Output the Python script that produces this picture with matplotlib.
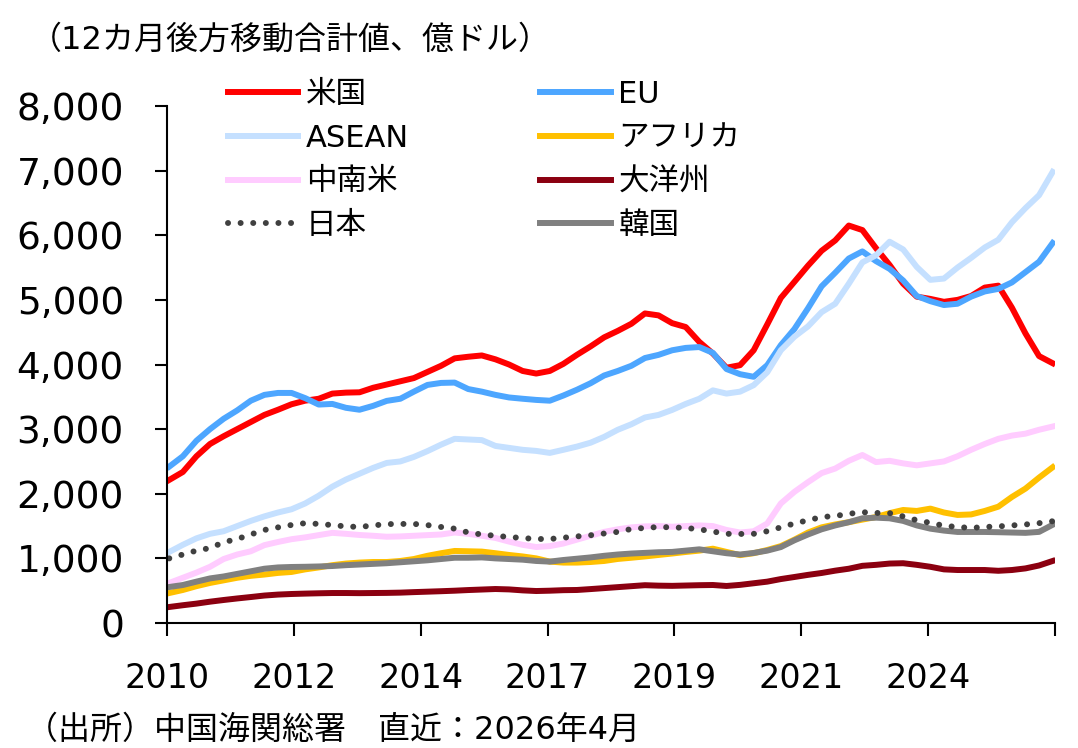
import matplotlib
matplotlib.use("Agg")
import matplotlib.pyplot as plt
import numpy as np

plt.rcParams['font.family'] = ['DejaVu Sans', 'Noto Sans CJK JP']

# quarterly readings (Jan 2010 .. Apr 2026), 12-month rolling sums, 100m USD
months = np.arange(0, 196, 3)

us = [2214, 2337, 2580, 2770, 2890, 3000, 3110, 3220, 3300, 3385,
      3440, 3470, 3550, 3565, 3570, 3640, 3690, 3740, 3790, 3885,
      3980, 4095, 4120, 4140, 4080, 4000, 3900, 3860, 3900, 4010,
      4150, 4280, 4420, 4520, 4630, 4790, 4760, 4640, 4580, 4350,
      4170, 3950, 3990, 4220, 4620, 5030, 5280, 5530, 5760, 5920,
      6150, 6080, 5800, 5540, 5250, 5050, 5015, 4970, 5000, 5060,
      5190, 5220, 4880, 4480, 4130, 4020]
eu = [2420, 2580, 2820, 3000, 3160, 3290, 3440, 3530, 3560, 3560,
      3480, 3380, 3390, 3330, 3300, 3360, 3437, 3470, 3580, 3684,
      3715, 3720, 3620, 3580, 3530, 3490, 3470, 3452, 3440, 3520,
      3610, 3710, 3830, 3900, 3980, 4100, 4149, 4220, 4257, 4270,
      4180, 3930, 3850, 3810, 3990, 4300, 4550, 4870, 5210, 5420,
      5640, 5750, 5600, 5480, 5300, 5060, 4980, 4920, 4940, 5050,
      5130, 5170, 5270, 5430, 5590, 5880]
asean = [1100, 1210, 1310, 1380, 1420, 1500, 1580, 1650, 1710, 1760,
         1850, 1970, 2110, 2220, 2310, 2400, 2477, 2500, 2570, 2660,
         2760, 2850, 2840, 2830, 2740, 2710, 2680, 2663, 2632, 2680,
         2730, 2790, 2880, 2990, 3075, 3180, 3220, 3297, 3390, 3470,
         3600, 3550, 3580, 3680, 3880, 4220, 4430, 4590, 4810, 4940,
         5250, 5580, 5690, 5900, 5780, 5510, 5310, 5330, 5500, 5650,
         5810, 5930, 6200, 6420, 6620, 6980]
africa = [464, 511, 570, 620, 660, 700, 730, 750, 775, 790,
          830, 860, 895, 920, 935, 944, 944, 960, 990, 1040,
          1080, 1115, 1110, 1105, 1080, 1053, 1030, 1000, 950, 935,
          935, 944, 960, 991, 1010, 1030, 1053, 1075, 1099, 1120,
          1150, 1100, 1050, 1080, 1130, 1190, 1290, 1400, 1480, 1525,
          1560, 1600, 1640, 1700, 1749, 1734, 1770, 1710, 1672, 1680,
          1734, 1800, 1950, 2080, 2250, 2410]
latam = [620, 700, 780, 870, 990, 1060, 1110, 1205, 1254, 1297,
         1325, 1360, 1395, 1380, 1362, 1350, 1335, 1340, 1350, 1360,
         1370, 1400, 1380, 1350, 1316, 1260, 1210, 1176, 1190, 1230,
         1290, 1350, 1410, 1450, 1480, 1495, 1500, 1490, 1500, 1510,
         1500, 1440, 1400, 1420, 1540, 1850, 2030, 2180, 2320, 2390,
         2510, 2600, 2490, 2510, 2470, 2440, 2470, 2500, 2580, 2680,
         2770, 2850, 2900, 2930, 2990, 3040]
oceania = [248, 275, 300, 330, 356, 380, 402, 425, 440, 449,
           455, 460, 464, 464, 462, 464, 466, 470, 478, 485,
           492, 500, 510, 518, 526, 520, 505, 495, 500, 508,
           511, 525, 540, 555, 570, 585, 578, 575, 580, 585,
           588, 573, 590, 615, 640, 680, 712, 745, 774, 810,
           840, 885, 900, 920, 925, 900, 870, 830, 820, 820,
           820, 808, 820, 845, 890, 960]
japan = [1000, 1060, 1120, 1160, 1250, 1300, 1370, 1440, 1480, 1517,
         1545, 1533, 1515, 1495, 1486, 1510, 1530, 1533, 1533, 1515,
         1486, 1460, 1400, 1370, 1350, 1331, 1315, 1300, 1300, 1320,
         1340, 1358, 1385, 1410, 1455, 1471, 1486, 1480, 1471, 1450,
         1415, 1380, 1378, 1380, 1420, 1480, 1540, 1590, 1640, 1656,
         1690, 1715, 1703, 1700, 1650, 1590, 1550, 1505, 1486, 1471,
         1486, 1495, 1510, 1525, 1545, 1575]
korea = [557, 588, 640, 690, 720, 760, 800, 840, 860, 867,
         870, 875, 882, 895, 905, 915, 925, 940, 955, 970,
         990, 1010, 1010, 1015, 1000, 990, 980, 960, 950, 975,
         995, 1015, 1040, 1060, 1075, 1085, 1095, 1100, 1120, 1140,
         1110, 1080, 1060, 1084, 1120, 1175, 1280, 1370, 1450, 1510,
         1560, 1620, 1630, 1620, 1580, 1510, 1460, 1430, 1409, 1409,
         1409, 1405, 1400, 1395, 1410, 1520]

tick_pos = [0, 28, 56, 84, 112, 140, 168, 196]
tick_lab = ['2010', '2012', '2014', '2017', '2019', '2021', '2024', '']

fig = plt.figure(figsize=(10.78, 7.48), dpi=100)
ax = fig.add_axes([0.1549, 0.1671, 0.8237, 0.6912])

x = months + 0.5
lw = 4.3
l_us, = ax.plot(x, us, color='#FF0000', lw=lw, label='米国')
l_eu, = ax.plot(x, eu, color='#4DA6FF', lw=lw, label='EU')
l_as, = ax.plot(x, asean, color='#C5E0FF', lw=lw, label='ASEAN')
l_af, = ax.plot(x, africa, color='#FFC000', lw=lw, label='アフリカ')
l_la, = ax.plot(x, latam, color='#FFCCFF', lw=lw, label='中南米')
l_oc, = ax.plot(x, oceania, color='#8B0010', lw=lw, label='大洋州')
l_kr, = ax.plot(x, korea, color='#808080', lw=lw, label='韓国')
l_jp, = ax.plot(x, japan, color='#404040', lw=lw, ls=(0, (0.01, 2.1)),
                dash_capstyle='round', label='日本')

ax.set_xlim(0, 196)
ax.set_ylim(0, 8000)
ax.set_yticks(range(0, 8001, 1000))
ax.set_yticklabels([f'{v:,}' for v in range(0, 8001, 1000)])
ax.set_xticks(tick_pos)
ax.set_xticklabels(tick_lab)
for s in ['top', 'right']:
    ax.spines[s].set_visible(False)
for s in ['left', 'bottom']:
    ax.spines[s].set_linewidth(1.5)
ax.tick_params(axis='y', direction='out', length=9, width=1.5, pad=22, labelsize=27)
ax.tick_params(axis='x', direction='out', length=9, width=1.5, pad=19, labelsize=24)

handles = [l_us, l_as, l_la, l_jp, l_eu, l_af, l_oc, l_kr]
fig.legend(handles=handles, labels=[h.get_label() for h in handles],
           ncol=2, loc='upper left', bbox_to_anchor=(0.2115, 0.893),
           frameon=False, fontsize=22, borderpad=0, handlelength=2.3,
           handletextpad=0.25, columnspacing=4.3, labelspacing=0.48,
           borderaxespad=0)

fig.text(0.028, 0.946, '（12カ月後方移動合計値、億ドル）', fontsize=23, va='center', ha='left')
fig.text(0.024, 0.024, '（出所）中国海関総署　直近：2026年4月', fontsize=23, va='center', ha='left')

fig.savefig('out.png', dpi=100)
